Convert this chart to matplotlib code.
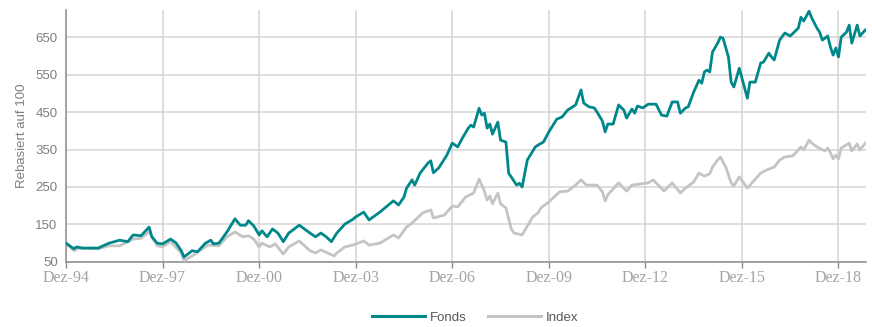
import matplotlib
matplotlib.use("Agg")
import matplotlib.pyplot as plt
import pandas as pd

# ---- data ----
fonds_dates = ["1994-12","1995-03","1995-04","1995-06","1995-12","1996-04","1996-08","1996-11",
    "1997-01","1997-04","1997-07","1997-08","1997-10","1997-12","1998-03","1998-05","1998-07",
    "1998-08","1998-11","1999-01","1999-04","1999-06","1999-07","1999-09","1999-12","2000-03",
    "2000-05","2000-07","2000-08","2000-10","2000-12","2001-01","2001-03","2001-05","2001-07",
    "2001-09","2001-11","2002-03","2002-07","2002-09","2002-11","2003-01","2003-03","2003-05",
    "2003-08","2003-11","2003-12","2004-03","2004-05","2004-09","2005-02","2005-04","2005-06",
    "2005-07","2005-09","2005-10","2005-12","2006-03","2006-04","2006-05","2006-07","2006-10",
    "2006-12","2007-02","2007-04","2007-06","2007-07","2007-08","2007-10","2007-11","2007-12",
    "2008-01","2008-02","2008-03","2008-05","2008-06","2008-08","2008-09","2008-12","2009-01",
    "2009-02","2009-04","2009-07","2009-08","2009-10","2009-12","2010-03","2010-05","2010-07",
    "2010-10","2010-12","2011-01","2011-03","2011-05","2011-06","2011-08","2011-09","2011-10",
    "2011-12","2012-02","2012-04","2012-05","2012-07","2012-08","2012-09","2012-11","2013-01",
    "2013-04","2013-06","2013-08","2013-10","2013-12","2014-01","2014-03","2014-04","2014-06",
    "2014-08","2014-09","2014-10","2014-11","2014-12","2015-01","2015-03","2015-04","2015-05",
    "2015-07","2015-08","2015-09","2015-11","2015-12","2016-02","2016-03","2016-05","2016-07",
    "2016-08","2016-10","2016-11","2016-12","2017-02","2017-04","2017-06","2017-09","2017-10",
    "2017-11","2018-01","2018-02","2018-04","2018-05","2018-06","2018-08","2018-09","2018-10",
    "2018-11","2018-12","2019-01","2019-03","2019-04","2019-05","2019-07","2019-08","2019-10"]
fonds_values = [100,85,90,87,87,100,108,104,
    122,120,143,117,100,98,111,101,80,
    63,80,77,100,108,98,100,130,165,
    148,148,160,146,122,133,117,138,127,
    104,127,148,127,117,127,117,104,127,
    151,164,170,183,162,183,213,202,223,
    247,269,255,287,314,320,288,301,335,
    367,357,383,407,415,410,460,442,447,
    407,418,391,423,375,370,287,255,260,
    250,322,357,362,370,397,431,437,455,
    469,509,474,464,461,450,426,397,418,
    418,469,455,434,458,447,466,461,471,
    471,442,439,477,477,447,461,464,503,
    535,527,557,562,557,610,634,650,647,
    597,530,517,567,541,487,530,530,581,
    583,607,597,589,642,661,653,674,703,
    693,719,701,674,663,642,653,623,602,
    621,597,650,663,682,634,682,653,669]

index_dates = ["1994-12","1995-03","1995-05","1995-12","1996-04","1996-08","1997-01","1997-04",
    "1997-07","1997-10","1997-12","1998-03","1998-07","1998-08","1998-11","1999-05","1999-09",
    "1999-12","2000-03","2000-06","2000-08","2000-10","2000-12","2001-01","2001-04","2001-06",
    "2001-09","2001-11","2002-03","2002-07","2002-09","2002-11","2003-04","2003-05","2003-08",
    "2003-11","2004-03","2004-05","2004-09","2005-02","2005-04","2005-07","2005-09","2006-01",
    "2006-04","2006-05","2006-09","2006-12","2007-02","2007-05","2007-08","2007-10","2007-12",
    "2008-01","2008-02","2008-03","2008-05","2008-06","2008-08","2008-10","2008-11","2009-02",
    "2009-04","2009-06","2009-08","2009-09","2009-12","2010-04","2010-07","2010-10","2010-12",
    "2011-02","2011-06","2011-08","2011-09","2011-10","2012-02","2012-05","2012-07","2013-01",
    "2013-03","2013-04","2013-07","2013-10","2014-01","2014-03","2014-06","2014-08","2014-10",
    "2014-12","2015-01","2015-03","2015-04","2015-06","2015-08","2015-09","2015-11","2016-02",
    "2016-04","2016-07","2016-09","2016-12","2017-02","2017-04","2017-07","2017-08","2017-10",
    "2017-11","2018-01","2018-02","2018-04","2018-07","2018-08","2018-09","2018-10","2018-11",
    "2018-12","2019-01","2019-04","2019-05","2019-07","2019-08","2019-10"]
index_values = [100,80,87,85,93,93,111,113,
    130,93,90,104,74,53,66,95,93,
    117,130,117,120,111,90,100,90,98,
    71,90,106,80,74,82,66,74,90,
    95,106,95,100,122,114,143,154,181,
    189,167,175,199,197,223,234,271,239,
    215,226,205,234,205,194,138,127,122,
    146,170,181,194,210,237,239,255,269,
    255,255,237,213,229,261,239,255,261,
    269,261,239,261,234,247,263,287,279,
    285,303,322,330,303,261,253,277,247,
    263,287,295,303,322,330,333,341,357,
    349,375,367,357,346,354,341,325,335,
    325,354,367,346,365,349,367]

tick_dates = ["1994-12","1997-12","2000-12","2003-12","2006-12","2009-12","2012-12","2015-12","2018-12"]
tick_labels = ["Dez-94","Dez-97","Dez-00","Dez-03","Dez-06","Dez-09","Dez-12","Dez-15","Dez-18"]
y_ticks = [50, 150, 250, 350, 450, 550, 650]

fonds_x = pd.to_datetime(fonds_dates)
index_x = pd.to_datetime(index_dates)

TEAL = "#00878a"
GRAY = "#c4c4c4"

fig = plt.figure(figsize=(8.72, 3.27), dpi=100)
ax = fig.add_axes([0.0757, 0.199, 0.9173, 0.770])

ax.plot(index_x, index_values, color=GRAY, lw=2.0, label="Index", zorder=3)
ax.plot(fonds_x, fonds_values, color=TEAL, lw=2.0, label="Fonds", zorder=4)

ax.set_xlim(pd.Timestamp("1994-12-01"), pd.Timestamp("2019-10-08"))
ax.set_ylim(50, 722)
ax.set_yticks(y_ticks)
ax.set_xticks(pd.to_datetime(tick_dates))
ax.set_xticklabels(tick_labels, family="Liberation Serif", fontsize=11.5, color="#a3a3a3")
for lab in ax.get_yticklabels():
    lab.set_fontfamily("Liberation Sans")
    lab.set_fontsize(9.5)
    lab.set_color("#7f7f7f")

ax.grid(True, color="#d4d4d4", lw=1.1, zorder=0)
ax.set_axisbelow(True)
for s in ["top", "right"]:
    ax.spines[s].set_visible(False)
for s in ["left", "bottom"]:
    ax.spines[s].set_color("#8c8c8c")
    ax.spines[s].set_linewidth(1.1)
ax.tick_params(axis="y", length=0, pad=6)
ax.tick_params(axis="x", length=4, color="#8c8c8c", width=1, pad=2)

ax.set_ylabel("Rebasiert auf 100", family="Liberation Sans", fontsize=9.5, color="#7f7f7f", labelpad=5)

h, l = ax.get_legend_handles_labels()
order = [1, 0]
leg = fig.legend([h[i] for i in order], [l[i] for i in order], loc="center",
                 bbox_to_anchor=(0.545, 0.028), ncol=2, frameon=False,
                 handlelength=4.0, columnspacing=1.6, handletextpad=0.4,
                 prop={"family": "Liberation Sans", "size": 9.5})
for t in leg.get_texts():
    t.set_color("#595959")
for line in leg.get_lines():
    line.set_linewidth(2.2)

fig.savefig("out.png", dpi=100)
